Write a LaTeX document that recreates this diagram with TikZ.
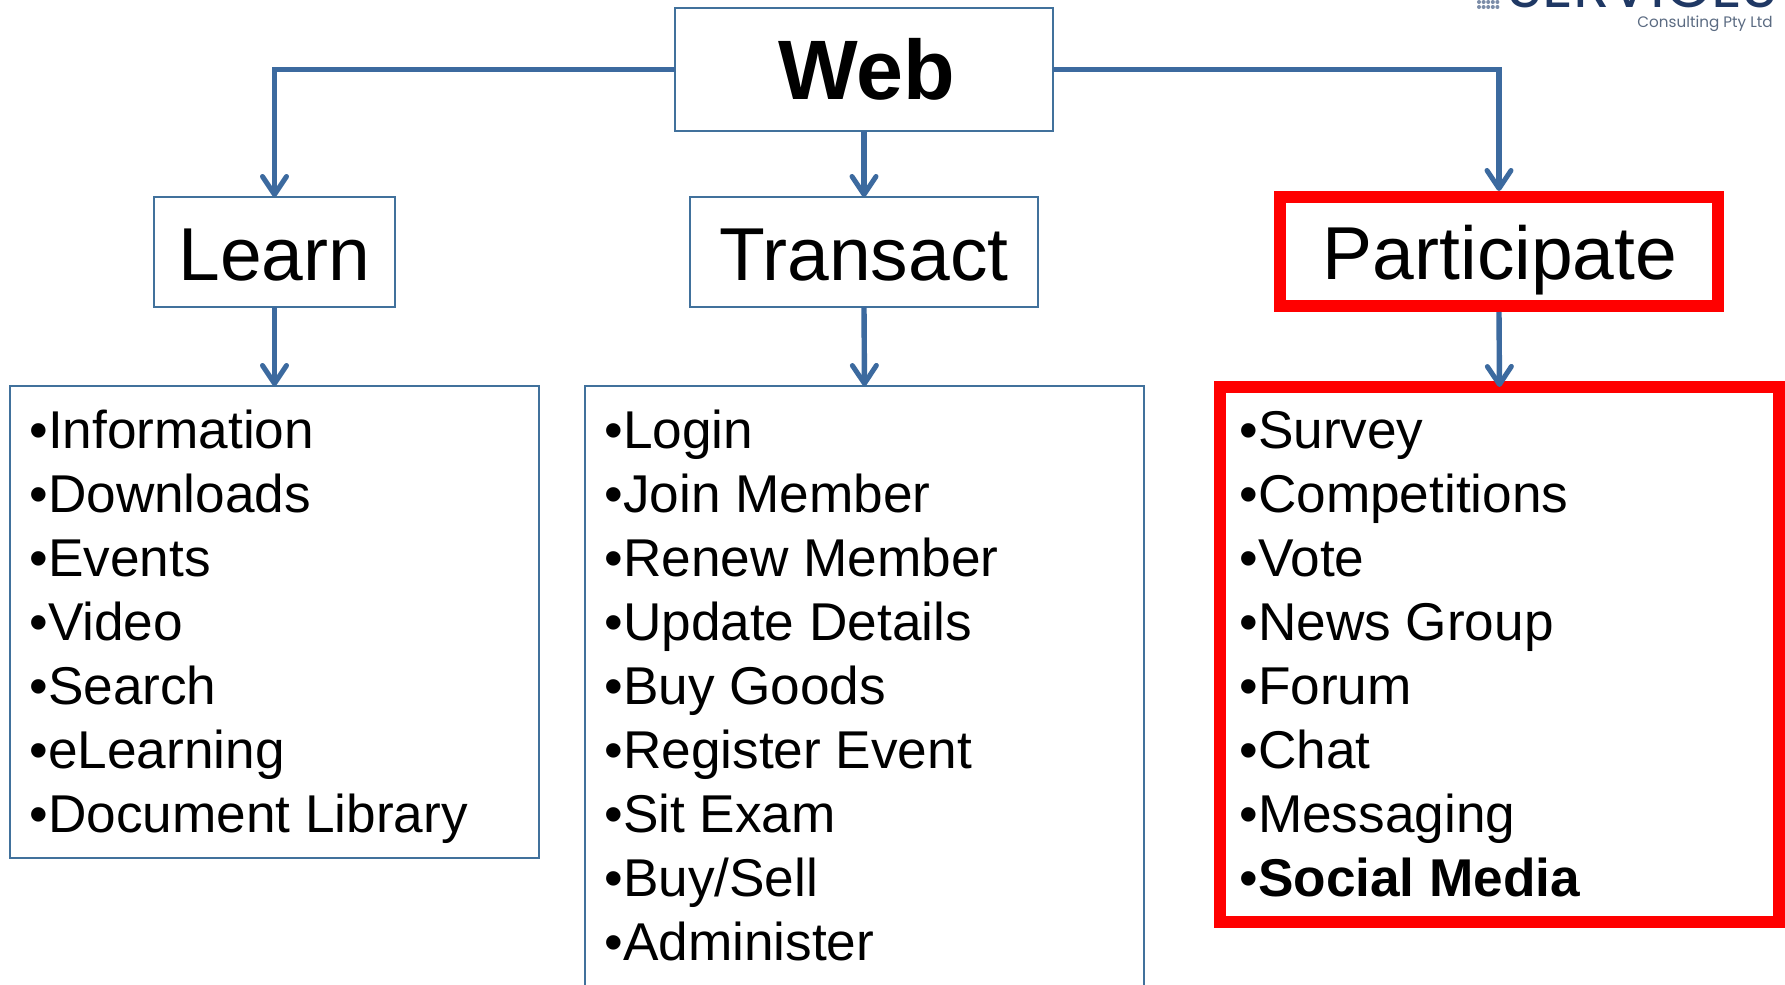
\documentclass[tikz,border=0pt]{standalone}
\usepackage{fontspec}
\usetikzlibrary{arrows.meta}
\setmainfont{Liberation Sans}
\newfontfamily\logofont{Poppins}
\definecolor{linkblue}{HTML}{3C6A9F}
\definecolor{boxblue}{HTML}{41719C}
\definecolor{logonavy}{HTML}{1F3864}
\definecolor{logogrey}{HTML}{5B6B82}
\definecolor{logodot}{HTML}{7C8DA8}
\tikzset{
  x=0.5pt,y=-0.5pt,
  box/.style={draw=boxblue,line width=1pt,inner sep=0pt,outer sep=0pt,fill=white},
  redbox/.style={draw=red,line width=6pt,inner sep=0pt,fill=white},
  headtext/.style={font=\fontsize{37.5}{38}\selectfont,text height=28pt,text depth=0pt},
  webtext/.style={font=\fontsize{42.2}{42}\selectfont\bfseries},
  item/.style={anchor=base west,inner sep=0pt,font=\fontsize{26.6}{32}\selectfont},
  link/.style={draw=linkblue,line width=2.7pt,-{Straight Barb[length=9pt,width=12pt,line width=2.5pt,round]}},
  logoname/.style={anchor=base west,inner sep=0pt,text=logonavy,font=\fontsize{30}{30}\logofont},
  logosub/.style={anchor=base west,inner sep=0pt,text=logogrey,font=\fontsize{7.6}{8}\logofont},
}
\begin{document}
\begin{tikzpicture}
\clip (0,0) rectangle (1785,985);
\fill[white] (0,0) rectangle (1785,985);
% logo
\foreach \c in {0,...,4}{\foreach \r in {0,1}{
  \fill[logodot] (1479+4.6*\c,2+5*\r) circle[radius=2];}}
\node[logoname] (logoname) at (1507,8) {SERVICES};
\node[logosub] (logosub) at (1637,27) {Consulting Pty Ltd};
% headings
\node[box,minimum width=189pt,minimum height=61.5pt,webtext,text width=189pt,align=center] (web) at (864,69.5) {\hspace*{2.5pt}Web};
\node[box,minimum width=120.5pt,minimum height=55pt,headtext] (learn) at (274.5,252) {Learn};
\node[box,minimum width=174pt,minimum height=55pt,headtext] (transact) at (864,252) {Transact};
\node[redbox,outer sep=3pt,minimum width=219pt,minimum height=54.5pt,headtext] (participate) at (1499,251.5) {\hspace*{1pt}Participate};
% lists
\node[box,minimum width=264.5pt,minimum height=236pt] (learnlist) at (274.5,622) {};
\node[box,minimum width=279.5pt,minimum height=360pt] (transactlist) at (864.5,746) {};
\node[redbox,outer sep=0pt,minimum width=279.5pt,minimum height=267.5pt] (partlist) at (1499.5,654.5) {};
\foreach \t [count=\i] in {Information,Downloads,Events,Video,Search,eLearning,Document Library}
  \node[item] (learn-\i) at (29,384.5+64*\i) {•\t};
\foreach \t [count=\i] in {Login,Join Member,Renew Member,Update Details,Buy Goods,Register Event,Sit Exam,Buy/Sell,Administer}
  \node[item] (transact-\i) at (604,384.5+64*\i) {•\t};
\foreach \t [count=\i] in {Survey,Competitions,Vote,News Group,Forum,Chat,Messaging}
  \node[item] (part-\i) at (1239,384.5+64*\i) {•\t};
\node[item] (part-8) at (1239,896.5) {•\textbf{Social Media}};
% connectors
\draw[link] (web.west) -| (learn.north);
\draw[link] (web.south) -- (transact.north);
\draw[link] (web.east) -| (participate.north);
\draw[link] (learn.south) -- (learnlist.north);
\draw[link] (transact.south) -- (transactlist.north);
\draw[link] (participate.south) -- (partlist.north);
\end{tikzpicture}
\end{document}
